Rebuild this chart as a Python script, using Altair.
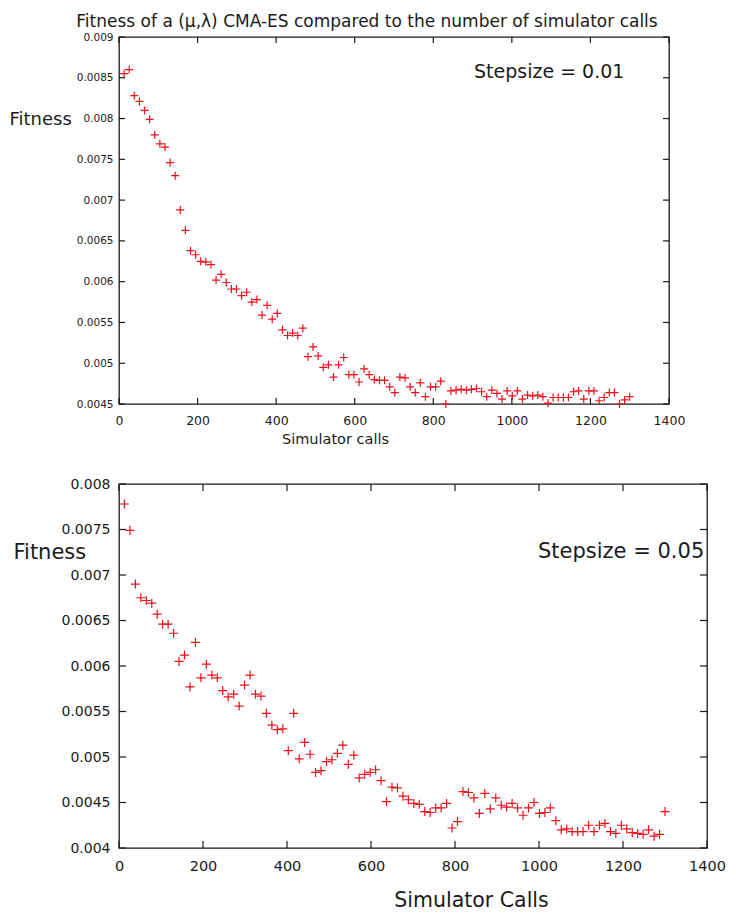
import altair as alt
import pandas as pd

# ---------------- data ----------------
calls = [13, 26, 39, 52, 65, 78, 91, 104, 117, 130,
         143, 156, 169, 182, 195, 208, 221, 234, 247, 260,
         273, 286, 299, 312, 325, 338, 351, 364, 377, 390,
         403, 416, 429, 442, 455, 468, 481, 494, 507, 520,
         533, 546, 559, 572, 585, 598, 611, 624, 637, 650,
         663, 676, 689, 702, 715, 728, 741, 754, 767, 780,
         793, 806, 819, 832, 845, 858, 871, 884, 897, 910,
         923, 936, 949, 962, 975, 988, 1001, 1014, 1027, 1040,
         1053, 1066, 1079, 1092, 1105, 1118, 1131, 1144, 1157, 1170,
         1183, 1196, 1209, 1222, 1235, 1248, 1261, 1274, 1287, 1300]

fitness_step001 = [0.00855, 0.00860, 0.00828, 0.00821, 0.00810, 0.00799, 0.00780, 0.00769, 0.00765, 0.00746,
                   0.00730, 0.00688, 0.00663, 0.00638, 0.00633, 0.00625, 0.00624, 0.00621, 0.00602, 0.00609,
                   0.00599, 0.00591, 0.00591, 0.00583, 0.00587, 0.00575, 0.00578, 0.00559, 0.00571, 0.00554,
                   0.00561, 0.00541, 0.00534, 0.00537, 0.00534, 0.00543, 0.00508, 0.00520, 0.00509, 0.00495,
                   0.00498, 0.00483, 0.00498, 0.00507, 0.00486, 0.00486, 0.00477, 0.00493, 0.00486, 0.00480,
                   0.00479, 0.00479, 0.00471, 0.00464, 0.00483, 0.00482, 0.00471, 0.00464, 0.00476, 0.00459,
                   0.00471, 0.00471, 0.00478, 0.00450, 0.00466, 0.00467, 0.00468, 0.00467, 0.00468, 0.00469,
                   0.00465, 0.00459, 0.00467, 0.00463, 0.00456, 0.00466, 0.00460, 0.00466, 0.00456, 0.00461,
                   0.00460, 0.00461, 0.00459, 0.00451, 0.00458, 0.00458, 0.00458, 0.00458, 0.00465, 0.00466,
                   0.00456, 0.00466, 0.00466, 0.00454, 0.00458, 0.00464, 0.00464, 0.00450, 0.00455, 0.00459]

fitness_step005 = [0.00778, 0.00749, 0.00690, 0.00675, 0.00672, 0.00669, 0.00657, 0.00646, 0.00646, 0.00636,
                   0.00605, 0.00612, 0.00577, 0.00626, 0.00587, 0.00602, 0.00590, 0.00587, 0.00573, 0.00566,
                   0.00569, 0.00556, 0.00579, 0.00590, 0.00569, 0.00567, 0.00548, 0.00535, 0.00530, 0.00531,
                   0.00507, 0.00548, 0.00498, 0.00516, 0.00503, 0.00483, 0.00485, 0.00495, 0.00497, 0.00504,
                   0.00513, 0.00492, 0.00502, 0.00477, 0.00481, 0.00483, 0.00486, 0.00474, 0.00451, 0.00467,
                   0.00466, 0.00457, 0.00453, 0.00449, 0.00448, 0.00440, 0.00439, 0.00444, 0.00444, 0.00449,
                   0.00422, 0.00429, 0.00462, 0.00461, 0.00455, 0.00438, 0.00460, 0.00443, 0.00455, 0.00447,
                   0.00445, 0.00449, 0.00444, 0.00436, 0.00444, 0.00450, 0.00438, 0.00439, 0.00444, 0.00430,
                   0.00420, 0.00421, 0.00418, 0.00418, 0.00418, 0.00425, 0.00418, 0.00425, 0.00427, 0.00418,
                   0.00416, 0.00425, 0.00421, 0.00417, 0.00416, 0.00415, 0.00420, 0.00413, 0.00415, 0.00440]

x_ticks = [0, 200, 400, 600, 800, 1000, 1200, 1400]
y_ticks_top = [0.0045, 0.005, 0.0055, 0.006, 0.0065, 0.007, 0.0075, 0.008, 0.0085, 0.009]
y_ticks_bottom = [0.004, 0.0045, 0.005, 0.0055, 0.006, 0.0065, 0.007, 0.0075, 0.008]

main_title = "Fitness of a (\u03bc,\u03bb) CMA-ES compared to the number of simulator calls"

FONT = "DejaVu Sans"
RED = "#e8101c"
INK = "#1a1a1a"
PLUS = "M-1,0L1,0M0,-1L0,1"


def panel(values, yticks, ydom, W, H, xlabel, step_label, cfg, heading=None):
    df = pd.DataFrame({"calls": calls, "fitness": values})
    xscale = alt.Scale(domain=[0, 1400], nice=False, zero=False)
    yscale = alt.Scale(domain=ydom, nice=False, zero=False)
    xaxis = alt.Axis(
        values=x_ticks, format="d", ticks=False, tickSize=0, domain=False, grid=False,
        labelFlush=False, labelOverlap=False,
        labelFont=FONT, labelFontSize=cfg["xlab"], labelColor=INK, labelPadding=cfg["xpad"],
        title=xlabel, titleFont=FONT, titleFontSize=cfg["xtitle"], titleFontWeight="normal",
        titleColor=INK, titleX=cfg["xtx"], titleY=cfg["xty"], titleAlign="center",
        titleBaseline="middle")
    yaxis = alt.Axis(
        values=yticks, format=".4~f", ticks=False, tickSize=0, domain=False, grid=False,
        labelOverlap=False,
        labelFont=FONT, labelFontSize=cfg["ylab"], labelColor=INK, labelPadding=cfg["ypad"],
        title="Fitness", titleFont=FONT, titleFontSize=cfg["ytitle"], titleFontWeight="normal",
        titleColor=INK, titleAngle=0, titleX=cfg["ytx"], titleY=cfg["yty"], titleAlign="left",
        titleBaseline="middle")

    pts = alt.Chart(df).mark_point(
        shape=PLUS, filled=False, color=RED, strokeWidth=1.2, size=cfg["size"], opacity=1
    ).encode(
        x=alt.X("calls:Q", scale=xscale, axis=xaxis),
        y=alt.Y("fitness:Q", scale=yscale, axis=yaxis),
    )

    xt = pd.DataFrame({"calls": x_ticks})
    yt = pd.DataFrame({"fitness": yticks})
    tl = cfg["tick"]
    bottom_ticks = alt.Chart(xt).mark_rule(color=INK, strokeWidth=1.2).encode(
        x=alt.X("calls:Q", scale=xscale, axis=xaxis), y=alt.value(H), y2=alt.value(H - tl))
    top_ticks = alt.Chart(xt).mark_rule(color=INK, strokeWidth=1.2).encode(
        x=alt.X("calls:Q", scale=xscale, axis=xaxis), y=alt.value(0), y2=alt.value(tl))
    left_ticks = alt.Chart(yt).mark_rule(color=INK, strokeWidth=1.2).encode(
        y=alt.Y("fitness:Q", scale=yscale, axis=yaxis), x=alt.value(0), x2=alt.value(tl))
    right_ticks = alt.Chart(yt).mark_rule(color=INK, strokeWidth=1.2).encode(
        y=alt.Y("fitness:Q", scale=yscale, axis=yaxis), x=alt.value(W - tl), x2=alt.value(W))

    txt = alt.Chart(pd.DataFrame({"label": [step_label]})).mark_text(
        align="left", baseline="middle", font=FONT, fontSize=cfg["step"], color=INK
    ).encode(text="label:N", x=alt.value(cfg["sx"]), y=alt.value(cfg["sy"]))

    layers = [pts, bottom_ticks, top_ticks, left_ticks, right_ticks, txt]
    if heading is not None:
        head = alt.Chart(pd.DataFrame({"label": [heading]})).mark_text(
            align="center", baseline="middle", font=FONT, fontSize=17, color=INK
        ).encode(text="label:N", x=alt.value(cfg["hx"]), y=alt.value(cfg["hy"]))
        layers.append(head)

    return alt.layer(*layers).properties(width=W, height=H)


top = panel(fitness_step001, y_ticks_top, [0.0045, 0.009], 550, 367, "Simulator calls",
            "Stepsize = 0.01",
            dict(size=64, xlab=12.5, xpad=10, xtitle=14.5, xtx=216, xty=35,
                 ylab=10.5, ypad=6, ytitle=18, ytx=-110, yty=82,
                 tick=6, step=19, sx=355, sy=35, hx=248, hy=-15),
            heading=main_title)

bottom = panel(fitness_step005, y_ticks_bottom, [0.004, 0.008], 588, 364, "Simulator Calls",
               "Stepsize = 0.05",
               dict(size=81, xlab=14.5, xpad=11, xtitle=20.5, xtx=352, xty=52,
                    ylab=14, ypad=9, ytitle=21, ytx=-106, yty=68,
                    tick=7, step=21, sx=419, sy=68))

chart = alt.vconcat(top, bottom, spacing=29).properties(
    padding={"left": 0, "top": 4, "right": 0, "bottom": 0},
).configure_view(stroke=INK, strokeWidth=1.3)

chart.save("out.html", embed_options={"renderer": "svg", "actions": False})
